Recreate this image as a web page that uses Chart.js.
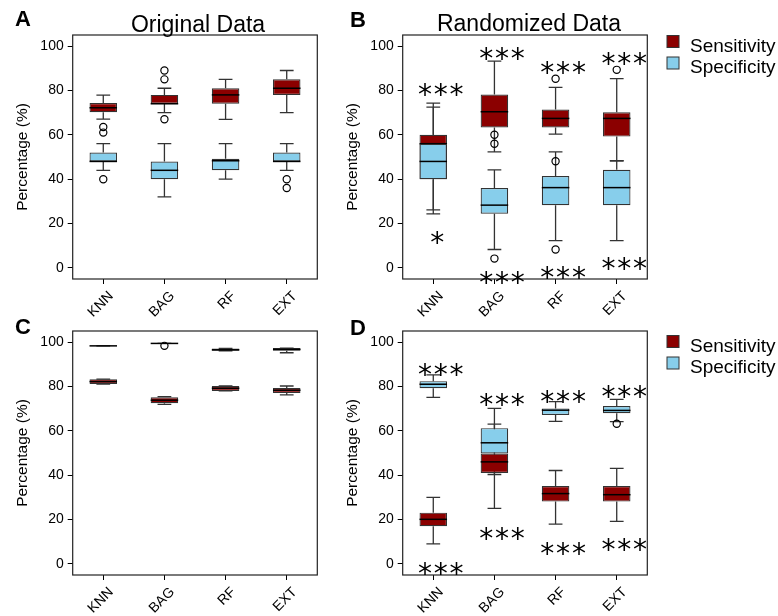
<!DOCTYPE html>
<html>
<head>
<meta charset="utf-8">
<script src="https://cdn.jsdelivr.net/npm/chart.js@4.4.0/dist/chart.umd.min.js"></script>
<style>
    body { margin: 0; background: #fff; width: 778px; height: 616px; position: relative; overflow: hidden; }
    canvas { position: absolute; }
</style>
</head>
<body>
<canvas id="chartA" width="330" height="330" style="left:0;top:0"></canvas>
<canvas id="chartB" width="448" height="330" style="left:330px;top:0"></canvas>
<canvas id="chartC" width="330" height="316" style="left:0;top:300px"></canvas>
<canvas id="chartD" width="448" height="316" style="left:330px;top:300px"></canvas>
<script>
// Categorías y ejes
const categories = ['KNN', 'BAG', 'RF', 'EXT'];
const yTicks = [0, 20, 40, 60, 80, 100];
const seriesNames = ['Sensitivity', 'Specificity'];

// Cajas: [bigote inferior, Q1, mediana, Q3, bigote superior]
const origSens = [[67.1, 70.2, 72.2, 74.3, 77.9], [70, 74, 74, 78, 81], [67, 74, 78, 81, 85], [70, 78, 81, 85, 89]];
const origSpec = [[44, 48, 48, 52, 56], [32, 40, 44, 48, 56], [40, 44, 48.3, 49.2, 56], [44, 48, 48, 52, 56]];
const origFliers = [['KNN', 63.5], ['KNN', 61], ['BAG', 89], ['BAG', 85], ['BAG', 67], ['KNN', 40], ['EXT', 40], ['EXT', 36]];

const randSens = [[24.4, 40, 56, 60, 74.3], [52.3, 63.3, 70.4, 78.2, 93.2], [60.3, 63.3, 67.4, 71.4, 81.4], [48.3, 59.2, 67.4, 70.2, 85.3]];
const randSpec = [[26.2, 40, 48, 56, 72.5], [8.3, 24.4, 28.3, 36, 44.2], [12.3, 28.3, 36.2, 41.4, 52.3], [12.3, 28.3, 36.2, 44.2, 48.3]];
const randFliers = [['BAG', 60], ['BAG', 56], ['BAG', 4.2], ['RF', 85.3], ['RF', 48.1], ['RF', 8.3], ['EXT', 89.3]];
const randStarsTop = ['***', '***', '***', '***'];
const randStarsTopY = [80.9, 97.4, 91.1, 95.2];
const randStarsBottom = ['*', '***', '***', '***'];
const randStarsBottomY = [14.6, -3.5, -1.5, 2.6];

const origSensC = [[81.1, 81.1, 82.2, 83.3, 83.3], [71.9, 72.4, 73.8, 75.1, 75.4], [78, 78, 79.2, 80.2, 80.2], [76.2, 77.1, 78.3, 79.3, 80.2]];
const origSpecC = [[98.3, 98.3, 98.3, 98.3, 98.3], [99.4, 99.4, 99.4, 99.4, 99.4], [96.1, 96.1, 96.5, 97.1, 97.1], [95.2, 96.1, 96.7, 97.3, 97.3]];
const origFliersC = [['BAG', 98.3]];

const randSensD = [[9, 17, 20.1, 23.1, 30], [25, 41, 46, 49.8, 63], [17.9, 28.1, 31.7, 35.1, 42.1], [19.2, 28.1, 31.2, 35.1, 43.1]];
const randSpecD = [[75.1, 79.2, 81, 82.4, 85.2], [40.3, 49.8, 54.6, 61.2, 70.1], [64.3, 67.1, 69.3, 70.1, 73.2], [64.1, 67.9, 69.2, 71.2, 74.2]];
const randFliersD = [['EXT', 63.2]];
const randStarsTopD = ['***', '***', '***', '***'];
const randStarsTopDY = [88.2, 75, 76.2, 78.4];
const randStarsBottomD = ['***', '***', '***', '***'];
const randStarsBottomDY = [-1.2, 14.3, 7.8, 9.4];

// Estilos
const SENS_COLOR = '#8B0000';
const SPEC_COLOR = '#87CEEB';
const EDGE_COLOR = '#333333';
const FONT = 'Liberation Sans, Arial, sans-serif';
const STAR_FONT = '28px DejaVu Sans';

// Bigotes (debajo de las cajas)
const whiskerPlugin = {
    id: 'whiskers',
    beforeDatasetsDraw(chart) {
        const ctx = chart.ctx;
        const yScale = chart.scales.y;
        ctx.save();
        ctx.strokeStyle = EDGE_COLOR;
        ctx.lineWidth = 1.3;
        chart.data.datasets.forEach((ds, di) => {
            if (!ds.stats) return;
            const meta = chart.getDatasetMeta(di);
            meta.data.forEach((bar, i) => {
                const s = ds.stats[i];
                const half = bar.width / 4;
                const lo = yScale.getPixelForValue(s[0]);
                const q1 = yScale.getPixelForValue(s[1]);
                const q3 = yScale.getPixelForValue(s[3]);
                const hi = yScale.getPixelForValue(s[4]);
                ctx.beginPath();
                ctx.moveTo(bar.x, q1); ctx.lineTo(bar.x, lo);
                ctx.moveTo(bar.x, q3); ctx.lineTo(bar.x, hi);
                ctx.moveTo(bar.x - half, lo); ctx.lineTo(bar.x + half, lo);
                ctx.moveTo(bar.x - half, hi); ctx.lineTo(bar.x + half, hi);
                ctx.stroke();
            });
        });
        ctx.restore();
    },
    // Mediana justo después de cada serie
    afterDatasetDraw(chart, args) {
        const ds = chart.data.datasets[args.index];
        if (!ds.stats) return;
        const ctx = chart.ctx;
        const yScale = chart.scales.y;
        ctx.save();
        ctx.strokeStyle = '#000';
        ctx.lineWidth = 1.5;
        args.meta.data.forEach((bar, i) => {
            const y = yScale.getPixelForValue(ds.stats[i][2]);
            ctx.beginPath();
            ctx.moveTo(bar.x - bar.width / 2, y);
            ctx.lineTo(bar.x + bar.width / 2, y);
            ctx.stroke();
        });
        ctx.restore();
    }
};

// Marco, títulos, letras, estrellas y leyenda
const decorPlugin = {
    id: 'decor',
    afterDraw(chart, args, opts) {
        const ctx = chart.ctx;
        const area = chart.chartArea;
        const xScale = chart.scales.x;
        const yScale = chart.scales.y;
        ctx.save();
        ctx.strokeStyle = '#222';
        ctx.lineWidth = 1.2;
        ctx.strokeRect(area.left, area.top, area.right - area.left, area.bottom - area.top);

        ctx.fillStyle = '#000';
        ctx.font = 'bold 22px ' + FONT;
        ctx.textAlign = 'left';
        ctx.textBaseline = 'alphabetic';
        ctx.fillText(opts.letter, opts.letterX, opts.letterY);

        if (opts.title) {
            ctx.font = '23px ' + FONT;
            ctx.textAlign = 'center';
            ctx.fillText(opts.title, opts.titleX, opts.titleY);
        }

        const drawStars = (labels, values) => {
            if (!labels) return;
            ctx.font = STAR_FONT;
            ctx.textAlign = 'center';
            labels.forEach((s, i) => {
                const n = s.length;
                const cx = xScale.getPixelForValue(i) + (n === 1 ? 4 : 7.5);
                const cy = yScale.getPixelForValue(values[i]) + 16;
                [...s].forEach((ch, k) => ctx.fillText(ch, cx + (k - (n - 1) / 2) * 15.8, cy));
            });
        };
        drawStars(opts.starsTop, opts.starsTopY);
        drawStars(opts.starsBottom, opts.starsBottomY);

        if (opts.legend) {
            const colors = [SENS_COLOR, SPEC_COLOR];
            const rows = [35.5, 57];
            ctx.font = '19px ' + FONT;
            ctx.textAlign = 'left';
            seriesNames.forEach((name, i) => {
                ctx.fillStyle = colors[i];
                ctx.fillRect(337, rows[i], 12, 12);
                ctx.strokeStyle = EDGE_COLOR;
                ctx.lineWidth = 1;
                ctx.strokeRect(337, rows[i], 12, 12);
                ctx.fillStyle = '#000';
                ctx.fillText(name, 360, rows[i] + 16);
            });
        }
        ctx.restore();
    }
};

function makePanel(id, p) {
    const boxDataset = (label, stats, color, order) => ({
        type: 'bar',
        label: label,
        data: stats.map(s => [s[1], s[3]]),
        stats: stats,
        backgroundColor: color,
        borderColor: EDGE_COLOR,
        borderWidth: 1.2,
        borderSkipped: false,
        grouped: false,
        barPercentage: 0.45,
        categoryPercentage: 1,
        order: order
    });

    const axisGrid = { display: true, drawOnChartArea: false, drawTicks: true, tickLength: 5, color: '#000', lineWidth: 1, offset: false };
    const tickFont = { family: FONT, size: 14 };

    return new Chart(document.getElementById(id), {
        data: {
            labels: categories,
            datasets: [
                boxDataset(seriesNames[0], p.sens, SENS_COLOR, 2),
                boxDataset(seriesNames[1], p.spec, SPEC_COLOR, 1),
                {
                    type: 'line',
                    label: 'outliers',
                    data: p.fliers.map(f => ({ x: f[0], y: f[1] })),
                    showLine: false,
                    pointRadius: 3.6,
                    pointBorderWidth: 1.2,
                    pointBorderColor: '#000',
                    pointBackgroundColor: 'rgba(0,0,0,0)',
                    order: 0
                }
            ]
        },
        options: {
            responsive: false,
            animation: false,
            events: [],
            layout: { padding: { left: 0, right: p.right, top: p.top, bottom: 0 } },
            plugins: {
                legend: { display: false },
                tooltip: { enabled: false },
                decor: p.decor
            },
            scales: {
                x: {
                    type: 'category',
                    offset: true,
                    grid: axisGrid,
                    border: { display: false },
                    ticks: { minRotation: 45, maxRotation: 45, font: tickFont, color: '#000', padding: 4, labelOffset: 8 },
                    afterFit: s => { s.height = p.xHeight; }
                },
                y: {
                    min: -5,
                    max: 105,
                    grid: axisGrid,
                    border: { display: false },
                    ticks: { font: tickFont, color: '#000', padding: 4 },
                    afterBuildTicks: s => { s.ticks = yTicks.map(v => ({ value: v })); },
                    title: { display: true, text: 'Percentage (%)', color: '#000', font: { family: FONT, size: 15.5 }, padding: { top: 13, bottom: 0 } },
                    afterFit: s => { s.width = 72.7; }
                }
            }
        },
        plugins: [whiskerPlugin, decorPlugin]
    });
}

makePanel('chartA', {
    sens: origSens, spec: origSpec, fliers: origFliers, right: 12.7, top: 35, xHeight: 51,
    decor: { letter: 'A', letterX: 15, letterY: 26, title: 'Original Data', titleX: 198, titleY: 32 }
});
makePanel('chartB', {
    sens: randSens, spec: randSpec, fliers: randFliers, right: 130.7, top: 35, xHeight: 51,
    decor: { letter: 'B', letterX: 20, letterY: 27, title: 'Randomized Data', titleX: 199, titleY: 31,
             starsTop: randStarsTop, starsTopY: randStarsTopY, starsBottom: randStarsBottom, starsBottomY: randStarsBottomY, legend: true }
});
makePanel('chartC', {
    sens: origSensC, spec: origSpecC, fliers: origFliersC, right: 12.7, top: 31, xHeight: 41,
    decor: { letter: 'C', letterX: 15, letterY: 33.5 }
});
makePanel('chartD', {
    sens: randSensD, spec: randSpecD, fliers: randFliersD, right: 130.7, top: 31, xHeight: 41,
    decor: { letter: 'D', letterX: 20, letterY: 35,
             starsTop: randStarsTopD, starsTopY: randStarsTopDY, starsBottom: randStarsBottomD, starsBottomY: randStarsBottomDY, legend: true }
});
</script>
</body>
</html>
